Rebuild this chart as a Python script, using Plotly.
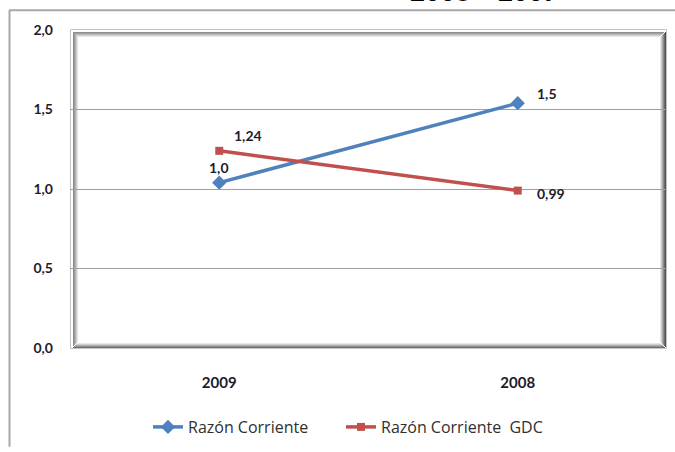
import plotly.graph_objects as go

# Data
years = ["2009", "2008"]
razon_corriente = [1.04, 1.54]
razon_corriente_gdc = [1.24, 0.99]
y_ticks = [0.0, 0.5, 1.0, 1.5, 2.0]

W, H = 675, 452
L, R, T, B = 70, 8, 30, 100
PW, PH = W - L - R, H - T - B


def px(x):
    return (x - L) / PW


def py(y):
    return (H - B - y) / PH


BLUE = "#4f81bd"
RED = "#c0504d"
TXT = "#1c1c2c"
FONT = "Lato"

fig = go.Figure()
fig.add_trace(go.Scatter(
    x=years, y=razon_corriente, name="Razón Corriente", mode="lines+markers",
    line=dict(color=BLUE, width=3.5),
    marker=dict(symbol="diamond", size=11, color=BLUE),
    legend="legend",
))
fig.add_trace(go.Scatter(
    x=years, y=razon_corriente_gdc, name="Razón Corriente  GDC", mode="lines+markers",
    line=dict(color=RED, width=3.5),
    marker=dict(symbol="square", size=8, color=RED),
    legend="legend2",
))

# Data labels (x given as category index)
annotations = []
blue_shift = [(0, 15), (29, 10)]
for i, (v, (dx, dy)) in enumerate(zip(razon_corriente, blue_shift)):
    annotations.append(dict(x=i, y=v, xref="x", yref="y",
                            text="<b>" + "{:.1f}".format(v).replace(".", ",") + "</b>",
                            showarrow=False, xshift=dx, yshift=dy,
                            font=dict(family=FONT, size=14, color=TXT)))
red_shift = [(29, 15), (33, -3)]
for i, (v, (dx, dy)) in enumerate(zip(razon_corriente_gdc, red_shift)):
    annotations.append(dict(x=i, y=v, xref="x", yref="y",
                            text="<b>" + "{:.2f}".format(v).replace(".", ",") + "</b>",
                            showarrow=False, xshift=dx, yshift=dy,
                            font=dict(family=FONT, size=14, color=TXT)))

# Title partly above the page
annotations.append(dict(xref="paper", yref="paper", x=px(484), y=py(9), xanchor="center",
                        yanchor="bottom", showarrow=False,
                        text="<b>2008 – 2009</b>", font=dict(family=FONT, size=26, color="#000000")))

shapes = []


def hline(y, x0, x1, color, width=1):
    shapes.append(dict(type="line", xref="paper", yref="paper", x0=px(x0), x1=px(x1),
                       y0=py(y), y1=py(y), line=dict(color=color, width=width), layer="below"))


def vline(x, y0, y1, color, width=1):
    shapes.append(dict(type="line", xref="paper", yref="paper", x0=px(x), x1=px(x),
                       y0=py(y0), y1=py(y1), line=dict(color=color, width=width), layer="below"))


# Outer chart border (left and top)
vline(9.5, 10, 452, "#a8a8a8", 2)
hline(10, 9, 675, "#a8a8a8", 2)

# Bevelled plot frame
shapes.append(dict(type="rect", xref="paper", yref="paper", x0=px(70.5), x1=px(666.5),
                   y0=py(352.5), y1=py(29.5), line=dict(color="#c4c4c4", width=1), layer="below"))
left_cols = ["#8c8c8c", "#9c9c9c", "#b4b4b4", "#cccccc", "#e6e6e6"]
for i, c in enumerate(left_cols):
    vline(73.5 + i, 32 + i, 350 - i, c)
    hline(32.5 + i, 73 + i, 664 - i, c)
right_cols = ["#505050", "#6c6c6c", "#8c8c8c", "#acacac", "#cccccc", "#e8e8e8"]
for i, c in enumerate(right_cols):
    vline(665.5 - i, 32 + i, 351 - i, c)
bottom_cols = ["#707070", "#8c8c8c", "#acacac", "#cccccc", "#e6e6e6"]
for i, c in enumerate(bottom_cols):
    hline(351.5 - i, 73 + i, 665 - i, c)

legend_font = dict(family="Open Sans", size=16, color="#303030")

fig.update_layout(
    width=W, height=H,
    margin=dict(l=L, r=R, t=T, b=B),
    paper_bgcolor="white", plot_bgcolor="white",
    separators=",.",
    font=dict(family=FONT, color=TXT),
    showlegend=True,
    legend=dict(orientation="h", x=px(148), xanchor="left", y=py(432), yanchor="middle",
                font=legend_font),
    legend2=dict(orientation="h", x=px(341), xanchor="left", y=py(432), yanchor="middle",
                 font=legend_font),
    annotations=annotations,
    shapes=shapes,
    xaxis=dict(type="category", range=[-0.5, 1.5], showgrid=False, zeroline=False,
               showline=False, ticks="", ticklabelstandoff=24,
               tickfont=dict(family=FONT, size=15, color=TXT, weight="bold")),
    yaxis=dict(range=[0, 2], tickvals=y_ticks, tickformat=".1f", showgrid=True,
               gridcolor="#a0a0a0", gridwidth=1, zeroline=False, showline=False,
               ticks="", ticklabelstandoff=16,
               tickfont=dict(family=FONT, size=14, color=TXT, weight="bold")),
)

fig.write_html("out.html")
